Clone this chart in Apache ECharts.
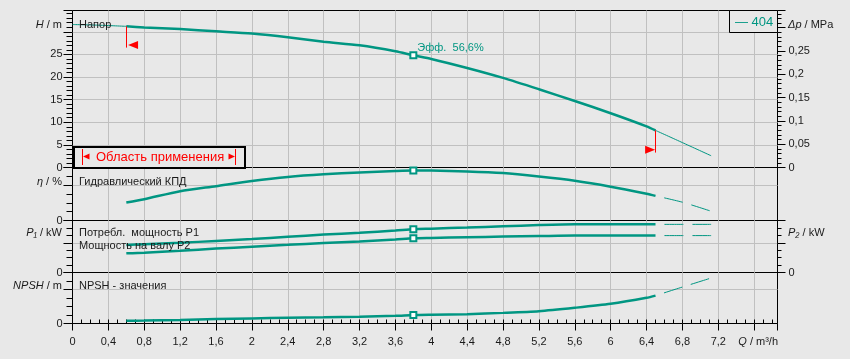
<!DOCTYPE html>
<html><head><meta charset="utf-8">
<script src="https://cdn.jsdelivr.net/npm/echarts@6/dist/echarts.min.js"></script>
<style>html,body{margin:0;padding:0;background:#e8e8e8;}#c{width:850px;height:359px;}</style>
</head><body><div id="c"></div>
<script>
// ---- data ----
const curveName = '404';
const qLow = [0, 0.3, 0.6];
const hLow = [31.6, 31.45, 31.2];
const qMain = [0.6, 0.8, 1.2, 1.6, 2.0, 2.4, 2.8, 3.2, 3.6, 3.8, 4.0, 4.4, 4.8, 5.2, 5.6, 6.0, 6.4, 6.5];
const hMain = [31.2, 30.95, 30.6, 30.1, 29.6, 28.8, 27.8, 27.0, 25.7, 24.8, 24.0, 22.0, 19.8, 17.3, 14.7, 12.0, 9.1, 8.2];
const etaMain = [20.3, 24.1, 33.2, 38.9, 44.7, 49.3, 52.3, 54.3, 56.0, 56.6, 56.5, 55.6, 53.7, 49.8, 45.0, 38.3, 30.3, 27.9];
const p1Main = [0.37, 0.38, 0.40, 0.425, 0.45, 0.48, 0.51, 0.535, 0.565, 0.583, 0.59, 0.605, 0.622, 0.638, 0.648, 0.648, 0.648, 0.648];
const p2Main = [0.258, 0.266, 0.293, 0.322, 0.347, 0.372, 0.398, 0.418, 0.445, 0.461, 0.466, 0.475, 0.483, 0.49, 0.497, 0.497, 0.497, 0.497];
const npshMain = [0.31, 0.34, 0.42, 0.52, 0.6, 0.68, 0.73, 0.8, 0.9, 1.0, 1.04, 1.1, 1.25, 1.45, 1.85, 2.32, 3.02, 3.28];
const qExt = [6.5, 6.8, 7.12];
const hExt = [8.2, 5.5, 2.6];
const etaExt = [27.9, 20.7, 10.5];
const p1Ext = [0.648, 0.648, 0.648];
const p2Ext = [0.497, 0.497, 0.497];
const npshExt = [3.28, 4.29, 5.35];
const qDuty = 3.8;
const xTickMax = 7.2;
const hLabelMax = 25;
const dpLabelMax = 0.25;

// ---- scales ----
const xMax = 7.86, hMax = 34.7, dpMax = 0.337, etaMax = 60, pMax = 0.7, npshMax = 6;

const teal = '#009682';
const red = '#ff0000';
const font = '"Liberation Sans", Arial, sans-serif';
const txtCol = '#1a1a1a';
const gridCol = '#c0c0c0';
const fmt = v => String(+(+v).toFixed(3)).replace('.', ',');
const pairs = (xs, ys) => xs.map((q, i) => [q, ys[i]]);
const iDuty = qMain.indexOf(qDuty);

const gridTops = [10.5, 167.5, 220.5, 272.5];
const gridHs = [157, 53, 52, 51];
const grids = gridTops.map((t, i) => ({left: 72.5, width: 705, top: t, height: gridHs[i], show: true,
  borderColor: '#000', borderWidth: 1, backgroundColor: 'transparent', containLabel: false, outerBoundsMode: 'none'}));

const split = {show: true, showMinLine: false, showMaxLine: false, lineStyle: {color: gridCol, width: 1}};
const blk = {color: '#000', width: 1};
const lbl = (o) => Object.assign({fontSize: 11, fontFamily: font, color: txtCol}, o);

const xBase = g => ({type: 'value', gridIndex: g, min: 0, max: xMax, interval: 0.4,
  axisLine: {show: false}, axisTick: {show: false}, axisLabel: {show: false}, splitLine: split});
const xAxis = [xBase(0), xBase(1), xBase(2),
  Object.assign(xBase(3), {axisTick: {show: true, length: 7, lineStyle: blk},
    axisLabel: lbl({show: true, margin: 13, formatter: v => v > xTickMax + 0.01 ? '' : fmt(v)})}),
  {type: 'value', gridIndex: 3, min: 0, max: xMax, interval: 0.1, axisLine: {show: false},
    axisTick: {show: true, length: 4, lineStyle: blk}, axisLabel: {show: false}, splitLine: {show: false}}];

const zeroOnly = v => (Math.abs(v) < 1e-9 ? '0' : '');
function yMajor(g, pos, max, interval, fmtFn, showSplit, tickLen) {
  return {type: 'value', gridIndex: g, position: pos, min: 0, max: max, interval: interval,
    axisLine: {show: false}, axisTick: {show: true, length: tickLen, lineStyle: blk},
    axisLabel: lbl({margin: pos === 'left' ? 10 : 11, formatter: fmtFn}),
    splitLine: showSplit ? split : {show: false}};
}
function yMinor(g, pos, max, interval, tickLen) {
  return {type: 'value', gridIndex: g, position: pos, min: 0, max: max, interval: interval,
    axisLine: {show: false}, axisTick: {show: true, length: tickLen, lineStyle: blk},
    axisLabel: {show: false}, splitLine: {show: false}};
}
const yAxis = [
  Object.assign(yMajor(0, 'left', hMax, 5, v => v <= hLabelMax + 1e-6 ? fmt(v) : '', true, 9),
    {minorTick: {show: true, splitNumber: 5, length: 6, lineStyle: blk}}),
  Object.assign(yMajor(0, 'right', dpMax, 0.05, v => v <= dpLabelMax + 1e-6 ? fmt(v) : '', false, 8),
    {minorTick: {show: true, splitNumber: 5, length: 4, lineStyle: blk}}),
  yMajor(1, 'left', etaMax, 40, zeroOnly, true, 9),
  yMinor(1, 'left', etaMax, 10, 6),
  yMajor(2, 'left', pMax, 0.4, zeroOnly, true, 9),
  yMinor(2, 'left', pMax, 0.1, 6),
  yMajor(2, 'right', pMax, 0.4, zeroOnly, false, 8),
  yMinor(2, 'right', pMax, 0.1, 4),
  yMajor(3, 'left', npshMax, 4, zeroOnly, true, 9),
  yMinor(3, 'left', npshMax, 1, 6)
];

const thick = {color: teal, width: 2.5};
const thin = {color: teal, width: 1};
const dashed = {color: teal, width: 1, type: [19, 9], dashOffset: 19};
function line(name, xi, yi, xs, ys, style, extra) {
  return Object.assign({type: 'line', name, xAxisIndex: xi, yAxisIndex: yi, data: pairs(xs, ys),
    symbol: 'none', smooth: 0.25, lineStyle: style, silent: true, z: 3}, extra || {});
}
function duty(xi, yi, ys, label) {
  const item = {value: [qDuty, ys[iDuty]]};
  if (label) item.label = label;
  return {type: 'scatter', xAxisIndex: xi, yAxisIndex: yi, data: [item], symbol: 'rect', symbolSize: 6,
    itemStyle: {color: '#ffffff', borderColor: teal, borderWidth: 2, opacity: 1}, silent: true, z: 5};
}

const q0 = qMain[0], h0 = hMain[0];
const q1 = qMain[qMain.length - 1], h1 = hMain[hMain.length - 1];
const headMain = line(curveName, 0, 0, qMain, hMain, thick, {
  markLine: {silent: true, symbol: ['none', 'none'], label: {show: false}, lineStyle: {color: red, width: 1, type: 'solid'},
    data: [[{coord: [q0, h0]}, {coord: [q0, h0 - 4.7]}], [{coord: [q1, h1]}, {coord: [q1, h1 - 4.9]}]]},
  markPoint: {silent: true, label: {show: false}, itemStyle: {color: red},
    data: [{coord: [q0 + 0.075, h0 - 4.15], symbol: 'triangle', symbolSize: [8, 10], symbolRotate: 90},
           {coord: [q1 - 0.06, h1 - 4.27], symbol: 'triangle', symbolSize: [8, 10], symbolRotate: -90}]}
});

const series = [
  line('low', 0, 0, qLow, hLow, thin),
  headMain,
  line('ext', 0, 0, qExt, hExt, thin),
  duty(0, 0, hMain, {show: true, position: 'right', distance: 0, offset: [0, -7], color: teal, fontSize: 11,
    fontFamily: font, formatter: 'Эфф.  ' + fmt(etaMain[iDuty]) + '%'}),
  line('eta', 1, 2, qMain, etaMain, thick),
  line('etaExt', 1, 2, qExt, etaExt, dashed),
  duty(1, 2, etaMain),
  line('p1', 2, 4, qMain, p1Main, thick),
  line('p1Ext', 2, 4, qExt, p1Ext, dashed),
  line('p2', 2, 4, qMain, p2Main, thick),
  line('p2Ext', 2, 4, qExt, p2Ext, dashed),
  duty(2, 4, p1Main),
  duty(2, 4, p2Main),
  line('npsh', 3, 8, qMain, npshMain, thick),
  line('npshExt', 3, 8, qExt, npshExt, dashed),
  duty(3, 8, npshMain)
];

// ---- texts ----
function T(x, y, text, align, extra) {
  const base = {fontSize: 11, fontFamily: font, fill: txtCol};
  return {type: 'text', x, y, silent: true, z: 20, style: Object.assign({
    text, fontSize: 11, fontFamily: font, fill: txtCol,
    align: align || 'left', textAlign: align || 'left', verticalAlign: 'middle', textVerticalAlign: 'middle',
    rich: {i: Object.assign({}, base, {fontStyle: 'italic'}), n: Object.assign({}, base)}
  }, extra || {})};
}
const graphic = [
  T(62, 25, '{i|H}{n| / m}', 'right'),
  T(79, 25, 'Напор'),
  T(62, 181.5, '{i|η}{n| / %}', 'right'),
  T(79, 181.5, 'Гидравлический КПД'),
  T(62, 233, '{i|P₁}{n| / kW}', 'right'),
  T(79, 233, 'Потребл.  мощность P1'),
  T(79, 246, 'Мощность на валу P2'),
  T(62, 285.5, '{i|NPSH}{n| / m}', 'right'),
  T(79, 285.5, 'NPSH - значения'),
  T(788, 24.5, '{i|Δp}{n| / MPa}'),
  T(788, 233, '{i|P₂}{n| / kW}'),
  T(778, 342, '{i|Q}{n| / m³/h}', 'right'),
  // legend box
  {type: 'rect', z: 15, silent: true, shape: {x: 729.5, y: 10.5, width: 48, height: 22},
    style: {fill: '#e8e8e8', stroke: '#000', lineWidth: 1}},
  T(735, 22, '— ' + curveName, 'left', {fill: teal, fontSize: 13}),
  // operating range box
  {type: 'rect', z: 15, silent: true, shape: {x: 74, y: 147, width: 171, height: 21},
    style: {fill: '#e8e8e8', stroke: '#000', lineWidth: 2}},
  {type: 'line', z: 16, silent: true, shape: {x1: 82.5, y1: 149, x2: 82.5, y2: 165}, style: {stroke: red, lineWidth: 1}},
  {type: 'line', z: 16, silent: true, shape: {x1: 235.5, y1: 149, x2: 235.5, y2: 165}, style: {stroke: red, lineWidth: 1}},
  {type: 'polygon', z: 16, silent: true, shape: {points: [[83, 156.5], [89.5, 153.5], [89.5, 159.5]]}, style: {fill: red}},
  {type: 'polygon', z: 16, silent: true, shape: {points: [[235, 156.5], [228.5, 153.5], [228.5, 159.5]]}, style: {fill: red}},
  T(96, 157, 'Область применения', 'left', {fill: red, fontSize: 13})
];

const chart = echarts.init(document.getElementById('c'), null, {renderer: 'canvas'});
chart.setOption({
  backgroundColor: '#e8e8e8',
  animation: false,
  grid: grids,
  xAxis: xAxis,
  yAxis: yAxis,
  series: series,
  graphic: graphic
});
</script>
</body></html>
